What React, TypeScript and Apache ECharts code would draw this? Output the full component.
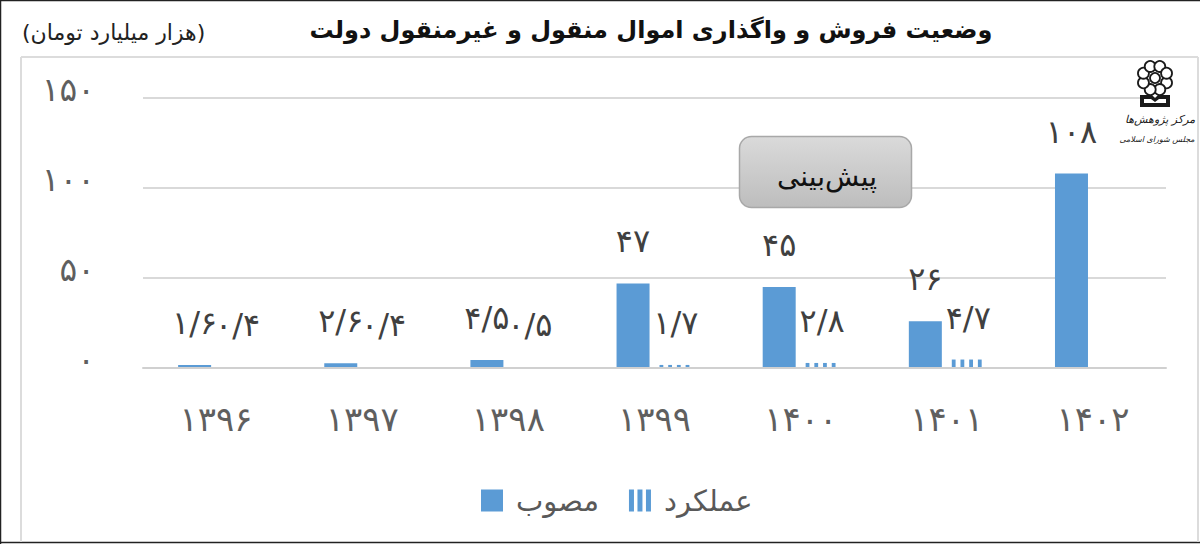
import React, { useEffect, useRef } from "react";
import * as echarts from "echarts";

const titleText = "وضعیت فروش و واگذاری اموال منقول و غیرمنقول دولت";
const unitText = "(هزار میلیارد تومان)";
const forecastText = "پیش‌بینی";
const logoLine1 = "مرکز پژوهش‌ها";
const logoLine2 = "مجلس شورای اسلامی";

const categories = ["۱۳۹۶", "۱۳۹۷", "۱۳۹۸", "۱۳۹۹", "۱۴۰۰", "۱۴۰۱", "۱۴۰۲"];
const approvedName = "مصوب";
const actualName = "عملکرد";
const approvedValues = [1.6, 2.6, 4.5, 47, 45, 26, 108];
const actualValues: (number | null)[] = [0.4, 0.4, 0.5, 1.7, 2.8, 4.7, null];
const yTickLabels: Record<number, string> = { 0: "۰", 50: "۵۰", 100: "۱۰۰", 150: "۱۵۰" };

const BLUE = "#5b9bd5";
const FONT = "'DejaVu Sans', sans-serif";

const toPersian = (v: number) =>
  String(v).replace(".", "/").replace(/\d/g, (d) => "۰۱۲۳۴۵۶۷۸۹"[Number(d)]);
const fmtLabel = (p: any) => toPersian(p.value);

echarts.graphic.registerShape(
  "bookLogo",
  echarts.graphic.extendPath("M0 2 L12 2 L15 5 L18 2 L30 2 L30 14 L0 14 Z M4 6 L4 10 L26 10 L26 6 L19 6 L15 9 L11 6 Z", {}) as any
);

function rosette() {
  const cx = 1155;
  const cy = 78;
  const items: any[] = [];
  for (let i = 0; i < 8; i++) {
    const a = (i * Math.PI) / 4 + Math.PI / 8;
    items.push({
      type: "circle",
      z: 20,
      shape: { cx: cx + 12.5 * Math.cos(a), cy: cy + 12.5 * Math.sin(a), r: 5.5 },
      style: { fill: "#ffffff", stroke: "#1a1a1a", lineWidth: 1.8 },
    });
  }
  items.push({
    type: "circle",
    z: 21,
    shape: { cx, cy, r: 5 },
    style: { fill: "#ffffff", stroke: "#1a1a1a", lineWidth: 1.8 },
  });
  return items;
}

const edge = (x1: number, y1: number, x2: number, y2: number, stroke: string, lineWidth: number) => ({
  type: "line",
  z: 1,
  shape: { x1, y1, x2, y2 },
  style: { stroke, lineWidth },
});

export default function App() {
  const ref = useRef<HTMLDivElement>(null);
  useEffect(() => {
    const chart = echarts.init(ref.current!, undefined, { renderer: "svg" });
    chart.setOption({
      animation: false,
      backgroundColor: "#ffffff",
      title: {
        text: titleText,
        left: 646,
        top: 13,
        textAlign: "center",
        textStyle: { fontFamily: FONT, fontSize: 24, fontWeight: "bold", color: "#111111" },
      },
      legend: {
        left: 476,
        top: 481,
        itemWidth: 22,
        itemHeight: 22,
        itemGap: 30,
        textStyle: { fontFamily: FONT, fontSize: 29, color: "#595959", padding: [0, 0, 0, 8] },
        data: [
          { name: approvedName, icon: "rect", itemStyle: { color: BLUE } },
          {
            name: actualName,
            icon: "path://M0 0h5v22h-5zM8.5 0h5v22h-5zM17 0h5v22h-5z",
            itemStyle: { color: BLUE },
          },
        ],
      },
      grid: { left: 143, right: 34, top: 98, bottom: 176 },
      xAxis: {
        type: "category",
        z: 3,
        data: categories,
        axisLine: { lineStyle: { color: "#d0d0d0", width: 2 } },
        axisTick: { show: false },
        axisLabel: { fontFamily: FONT, fontSize: 34, color: "#5f5f5f", margin: 34 },
      },
      yAxis: {
        type: "value",
        min: 0,
        max: 150,
        interval: 50,
        axisLine: { show: false },
        axisTick: { show: false },
        splitLine: { lineStyle: { color: "#d9d9d9", width: 2 } },
        axisLabel: {
          fontFamily: FONT,
          fontSize: 33,
          color: "#5f5f5f",
          margin: 48,
          verticalAlign: "bottom",
          lineHeight: 17,
          formatter: (v: number) => yTickLabels[v] ?? "",
        },
      },
      series: [
        {
          name: approvedName,
          type: "bar",
          barWidth: 33,
          barGap: "30%",
          data: approvedValues,
          itemStyle: { color: BLUE },
          label: {
            show: true,
            position: "top",
            distance: 26,
            fontFamily: FONT,
            fontSize: 32,
            color: "#404040",
            formatter: fmtLabel,
          },
        },
        {
          name: actualName,
          type: "bar",
          barWidth: 33,
          barGap: "30%",
          data: actualValues,
          itemStyle: { color: "rgba(91,155,213,0)" },
          label: {
            show: true,
            position: "top",
            distance: 26,
            fontFamily: FONT,
            fontSize: 32,
            color: "#404040",
            formatter: fmtLabel,
          },
        },
        {
          name: actualName,
          type: "custom",
          silent: true,
          data: actualValues.map((v, i) => [i, v]),
          renderItem: (_p: any, api: any) => {
            const v = api.value(1);
            if (v == null || Number.isNaN(v)) return { type: "group", children: [] };
            const [cx, y0] = api.coord([api.value(0), 0]);
            const [, y1] = api.coord([api.value(0), v]);
            const children = [0, 1, 2, 3].map((k) => ({
              type: "rect",
              shape: { x: cx + 5 + k * 8.7, y: y1, width: 3.8, height: y0 - y1 },
              style: { fill: BLUE },
            }));
            return { type: "group", children };
          },
        },
      ],
      graphic: [
        edge(0, 0.5, 1200, 0.5, "#222222", 1.5),
        edge(0.5, 0, 0.5, 544, "#222222", 1.5),
        edge(0, 542.5, 1200, 542.5, "#222222", 1.5),
        edge(21, 57, 1198, 57, "#dcdcdc", 2),
        edge(21, 57, 21, 542, "#dcdcdc", 2),
        edge(1198, 57, 1198, 542, "#dcdcdc", 2),
        {
          type: "text",
          z: 10,
          x: 22,
          y: 32,
          style: {
            text: unitText,
            font: `22px ${FONT}`,
            fill: "#222222",
            verticalAlign: "middle",
          },
        },
        {
          type: "rect",
          z: 10,
          shape: { x: 739.5, y: 136.5, width: 172, height: 71, r: 12 },
          style: {
            fill: new echarts.graphic.LinearGradient(0, 0, 0, 1, [
              { offset: 0, color: "#dadada" },
              { offset: 1, color: "#bdbdbd" },
            ]),
            stroke: "#a8a8a8",
            lineWidth: 1.5,
          },
        },
        {
          type: "text",
          z: 11,
          x: 827,
          y: 176,
          style: {
            text: forecastText,
            font: `28px ${FONT}`,
            fill: "#111111",
            align: "center",
            verticalAlign: "middle",
          },
        },
        ...rosette(),
        {
          type: "bookLogo",
          z: 20,
          x: 1140,
          y: 93,
          style: { fill: "#1a1a1a" },
        },
        {
          type: "text",
          z: 20,
          x: 1160,
          y: 119,
          style: {
            text: logoLine1,
            font: `italic 11px ${FONT}`,
            fill: "#222222",
            align: "center",
            verticalAlign: "middle",
          },
        },
        {
          type: "text",
          z: 20,
          x: 1157,
          y: 139,
          style: {
            text: logoLine2,
            font: `italic 8px ${FONT}`,
            fill: "#222222",
            align: "center",
            verticalAlign: "middle",
          },
        },
      ],
    });
    return () => chart.dispose();
  }, []);
  return (
    <div
      ref={ref}
      style={{ position: "absolute", left: 0, top: 0, width: 1200, height: 544 }}
    />
  );
}
